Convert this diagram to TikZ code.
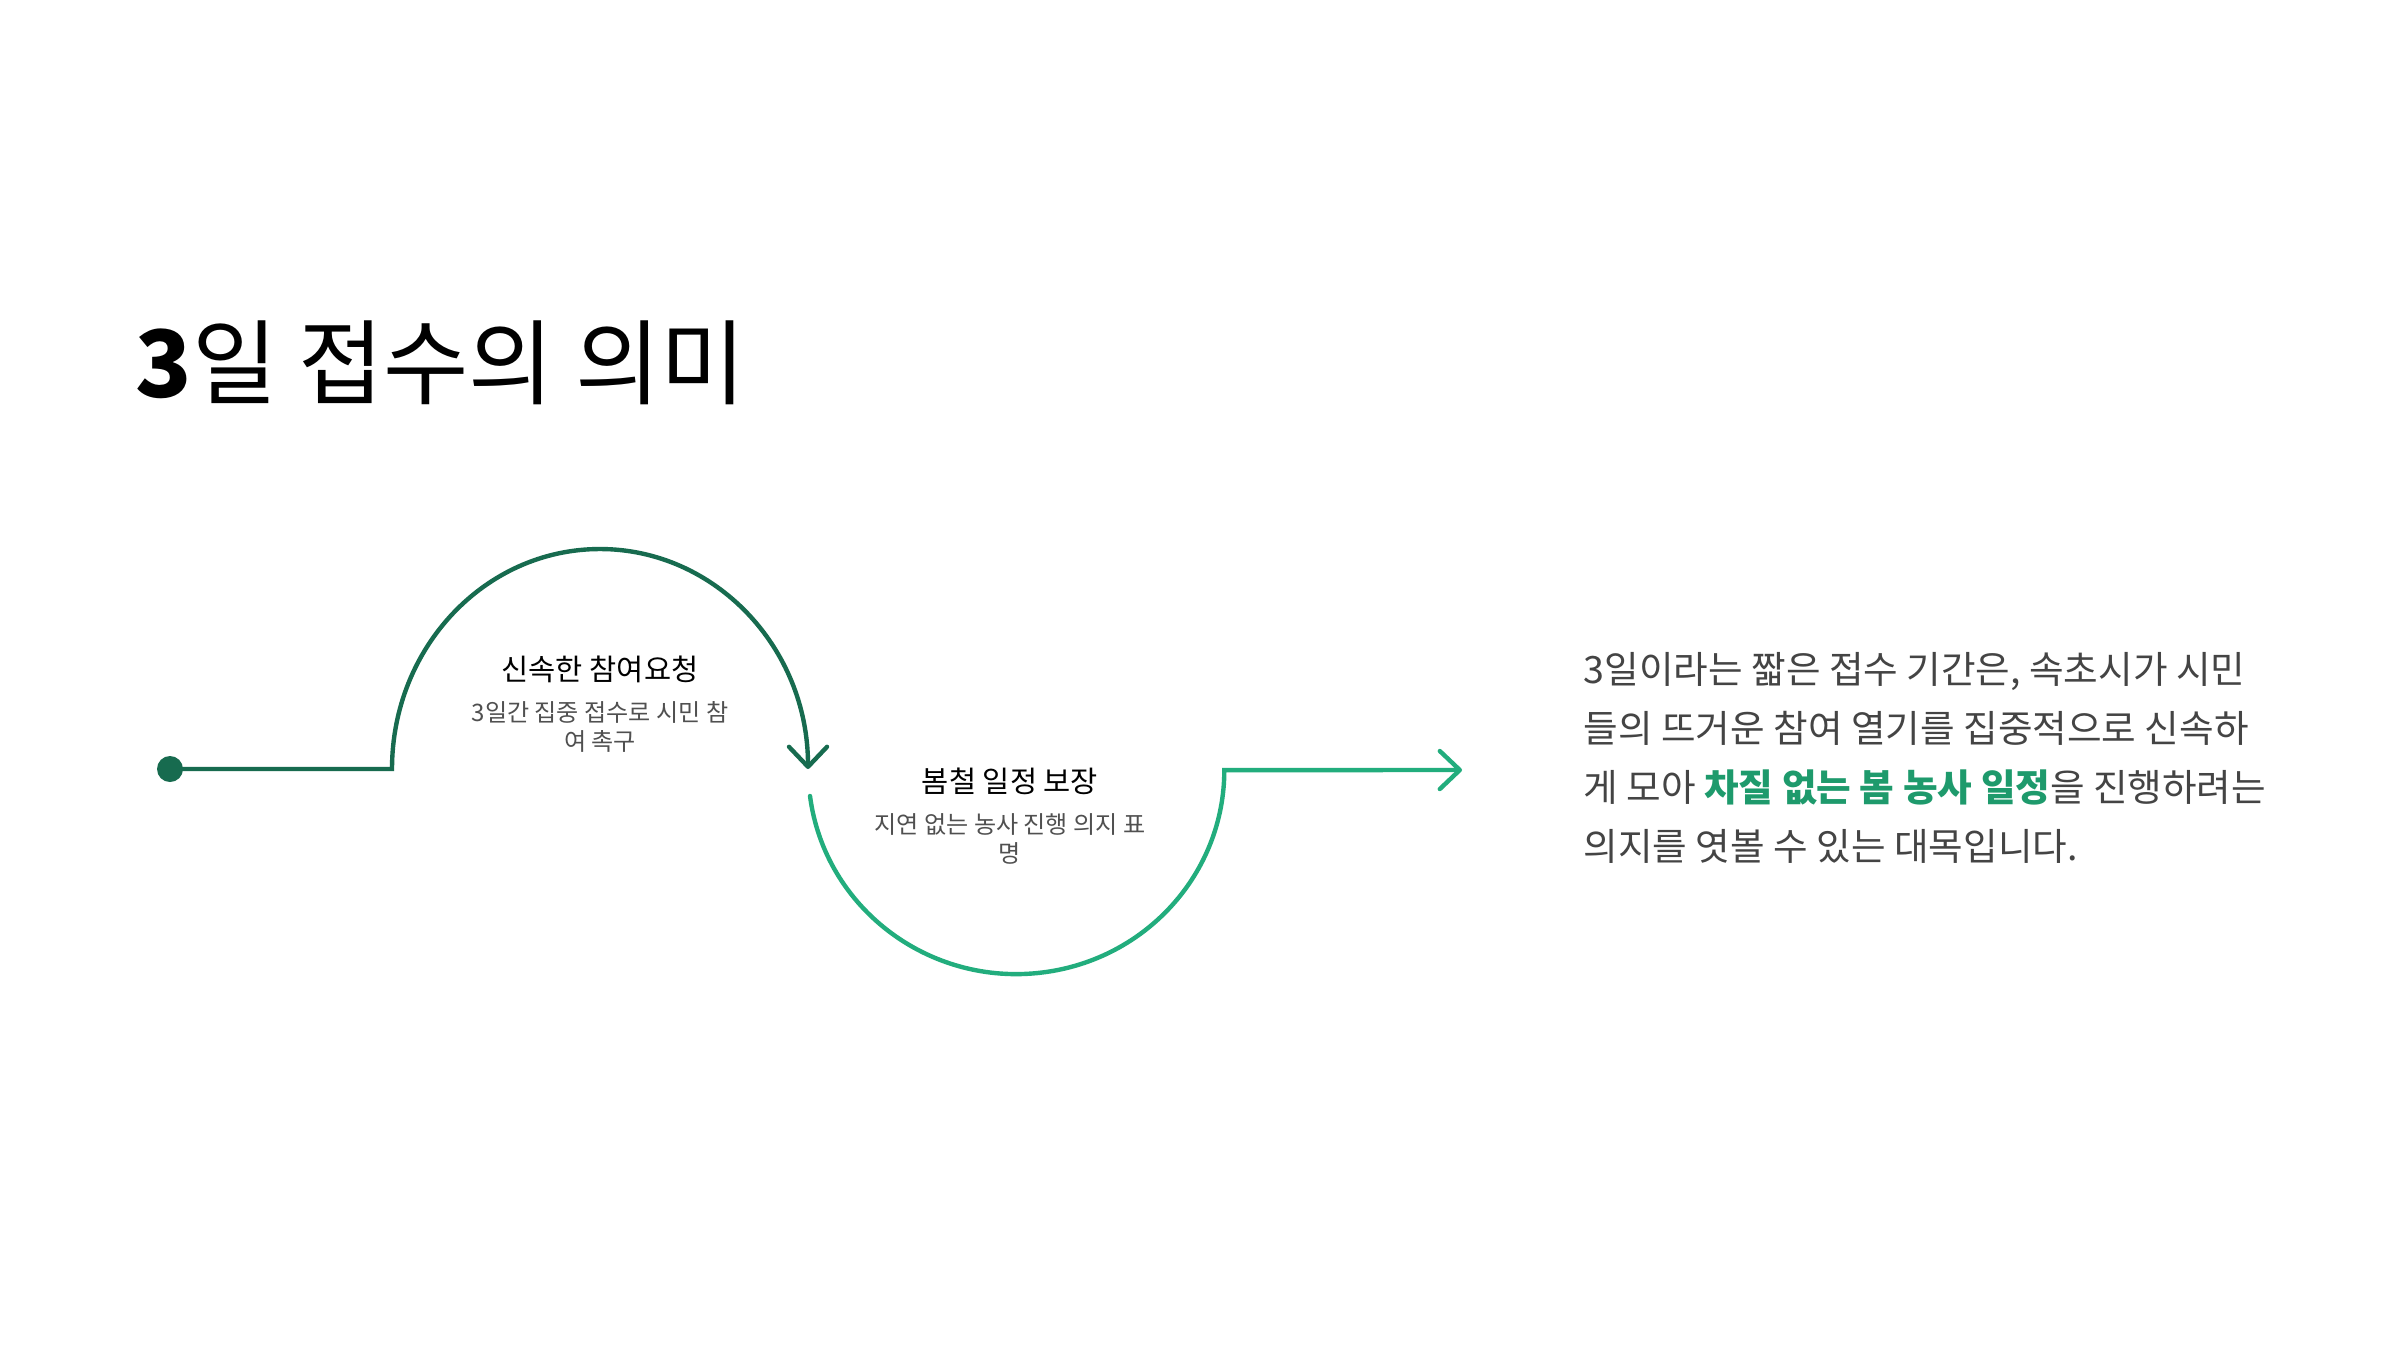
\documentclass[tikz,border=0pt]{standalone}
\usepackage{fontspec}
\setmainfont{Noto Sans CJK KR}
\usetikzlibrary{arrows.meta}
\definecolor{darkgreen}{HTML}{176B4F}
\definecolor{lightgreen}{HTML}{22AD7D}
\definecolor{markgreen}{HTML}{1E9A6C}
\definecolor{bodygray}{HTML}{444444}
\definecolor{descgray}{HTML}{505050}
\tikzset{
  pathline/.style={line width=1.25pt, line cap=round},
  arrowend/.style={-{Straight Barb[length=2mm,width=3.8mm,round]}},
  headtext/.style={font=\fontsize{8.4}{10}\selectfont, text=black},
  desctext/.style={font=\fontsize{6.85}{8.3}\selectfont, text=descgray, align=center}
}
\begin{document}
\begin{tikzpicture}
	\fill[white] (0,0) rectangle (24,-13.5);
	\useasboundingbox (0,0) rectangle (24,-13.5);
	\node[anchor=west, inner sep=0pt, font=\fontsize{26.4}{31}\selectfont] (title) at (1.35,-3.63) {\textbf{3}일 접수의 의미};
	% the path
	\node[circle, fill=darkgreen, minimum size=0.26cm, inner sep=0pt] (dot) at (1.70,-7.69) {};
	\coordinate (rise) at (3.92,-7.69);
	\coordinate (dip) at (8.10,-7.96);
	\coordinate (finish) at (14.62,-7.70);
	\draw[pathline, darkgreen, arrowend] (dot.center) -- (rise) arc[start angle=180, end angle=0, x radius=2.08, y radius=2.20];
	\draw[pathline, lightgreen, arrowend] (dip) arc[start angle=187.3, end angle=360, x radius=2.08, y radius=2.04] -- (finish);
	% labels
	\node[headtext] (reqhead) at (6.00,-6.69) {신속한 참여요청};
	\node[desctext] (reqdesc) at (6.00,-7.27) {3일간 집중 접수로 시민 참\\여 촉구};
	\node[headtext] (keephead) at (10.10,-7.81) {봄철 일정 보장};
	\node[desctext] (keepdesc) at (10.10,-8.39) {지연 없는 농사 진행 의지 표\\명};
	\node[anchor=west, inner sep=0pt, align=left, text=bodygray, font=\fontsize{10.7}{16.8}\selectfont] (summary) at (15.83,-7.58) {3일이라는 짧은 접수 기간은, 속초시가 시민\\들의 뜨거운 참여 열기를 집중적으로 신속하\\게 모아 \textcolor{markgreen}{\textbf{차질 없는 봄 농사 일정}}을 진행하려는\\의지를 엿볼 수 있는 대목입니다.};
\end{tikzpicture}
\end{document}
